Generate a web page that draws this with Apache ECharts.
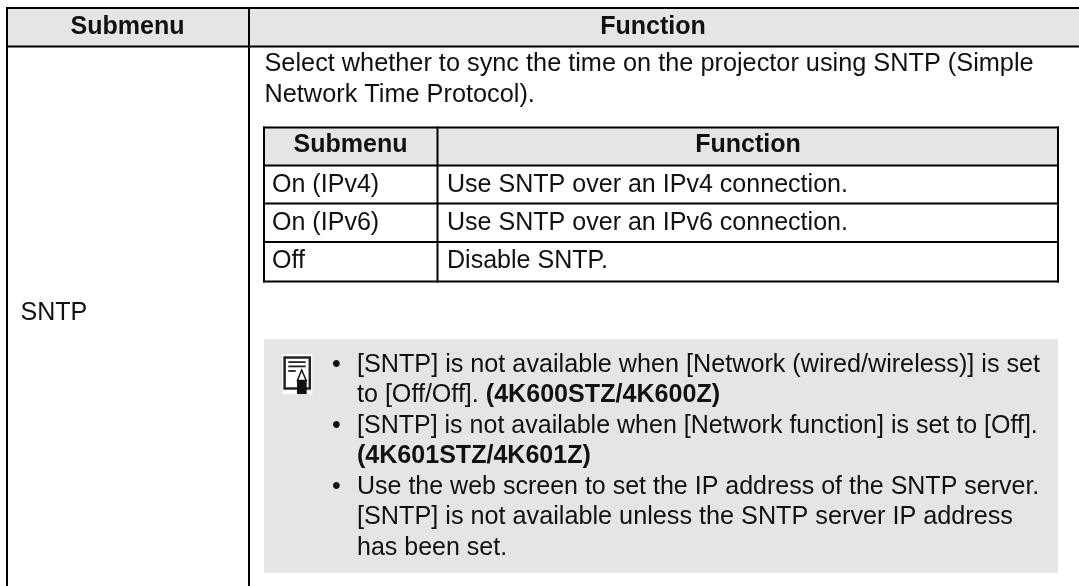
<!DOCTYPE html>
<html><head><meta charset="utf-8">
<style>html,body{margin:0;padding:0;background:#fff}#c{width:1079px;height:586px}</style>
<script src="https://cdn.jsdelivr.net/npm/echarts@6/dist/echarts.min.js"></script>
</head><body><div id="c"></div>
<script>
const headers = ['Submenu', 'Function'];
const rowLabel = 'SNTP';
const introLines = [
  'Select whether to sync the time on the projector using SNTP (Simple',
  'Network Time Protocol).'
];
const innerLeft = ['On (IPv4)', 'On (IPv6)', 'Off'];
const innerRight = ['Use SNTP over an IPv4 connection.', 'Use SNTP over an IPv6 connection.', 'Disable SNTP.'];
const noteLines = [
  '[SNTP] is not available when [Network (wired/wireless)] is set',
  'to [Off/Off]. {b|(4K600STZ/4K600Z)}',
  '[SNTP] is not available when [Network function] is set to [Off].',
  '{b|(4K601STZ/4K601Z)}',
  'Use the web screen to set the IP address of the SNTP server.',
  '[SNTP] is not available unless the SNTP server IP address',
  'has been set.'
];
const noteBullets = [0, 2, 4];

const FONT = '"Liberation Sans", Arial, sans-serif';
const FS = 25.05, INK = '#111', LINE = '#000', SHADE = '#e5e5e5';
const noteSizes = [25.2, 25.1, 25.02, 25.05, 25, 25.22, 25];
const els = [];
const rect = (x, y, w, h, fill, z) => els.push({type:'rect', shape:{x,y,width:w,height:h}, style:{fill}, z:z||1, silent:true});
const hl = (x1, x2, y, w) => rect(x1, y - w/2, x2 - x1, w, LINE, 3);
const vl = (x, y1, y2, w) => rect(x - w/2, y1, w, y2 - y1, LINE, 3);
const text = (t, x, base, o) => { o = o||{}; const fs = o.size||FS; els.push({type:'text', x, y: base - 6, z:5, silent:true, style:{
  text:t, fill:INK, font: (o.bold?'bold ':'') + fs + 'px ' + FONT, align:o.align||'left', verticalAlign:'middle',
  rich:{b:{font:'bold '+fs+'px '+FONT, fill:INK, verticalAlign:'middle'}}
}}); };

// outer table
rect(7, 8, 1072, 38, SHADE);
hl(6, 1079, 8, 2); hl(6, 1079, 46.5, 2);
vl(7, 7, 586, 2); vl(249, 7, 586, 2);
text(headers[0], 127.5, 33, {bold:true, align:'center'});
text(headers[1], 653, 33, {bold:true, align:'center'});
text(rowLabel, 20.5, 319);
introLines.forEach((l, i) => text(l, 264.5, 70 + i * 31.5, {size:25.3}));

// inner table
rect(264, 127.5, 794, 38, SHADE);
[127.5, 165.5, 203.5, 242, 281.5].forEach(y => hl(263, 1059, y, 2));
vl(264, 126.5, 282.5, 2); vl(437.5, 126.5, 282.5, 2); vl(1058, 126.5, 282.5, 2);
text(headers[0], 350.5, 151.5, {bold:true, align:'center'});
text(headers[1], 748, 151.5, {bold:true, align:'center'});
innerLeft.forEach((l, i) => text(l, 272, 190.7 + i * 38.4));
innerRight.forEach((l, i) => text(l, 447, 190.7 + i * 38.4));

// note box
rect(264, 339.3, 794, 233.4, SHADE);
noteLines.forEach((l, i) => text(l, 357, 370.7 + i * 30.5, {size:noteSizes[i]}));
noteBullets.forEach(i => text('\u2022', 332, 370.7 + i * 30.5));

// note icon
rect(282.3, 354, 30, 40, '#fff', 2);
els.push({type:'rect', shape:{x:284.6, y:357.6, width:25.2, height:31}, style:{fill:'#fff', stroke:'#222', lineWidth:2.5}, z:3, silent:true});
rect(288.3, 361.2, 17.4, 1.8, '#222', 4); rect(288.3, 365.5, 17.4, 1.8, '#222', 4); rect(288.3, 370.1, 7.5, 1.8, '#222', 4);
els.push({type:'polygon', shape:{points:[[301.7,370],[306.2,380.5],[297.4,380.5]]}, style:{fill:'#fff', stroke:'#111', lineWidth:1.5}, z:4, silent:true});
rect(297, 380, 9.7, 14, '#111', 4);

const chart = echarts.init(document.getElementById('c'), null, {renderer:'canvas'});
chart.setOption({animation:false, backgroundColor:'#fff', graphic:{elements:els}});
</script></body></html>
